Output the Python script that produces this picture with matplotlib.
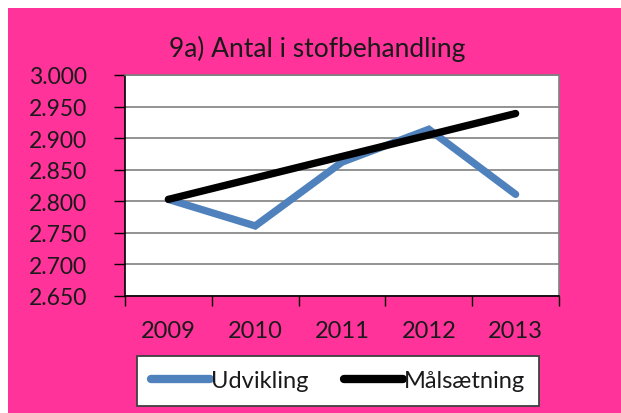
import numpy as np
import matplotlib
matplotlib.use("Agg")
import matplotlib.pyplot as plt
from matplotlib.patches import Rectangle
from matplotlib.ticker import FuncFormatter, MultipleLocator

plt.rcParams['font.family'] = ['Lato', 'DejaVu Sans']

years = ['2009', '2010', '2011', '2012', '2013']
udvikling = [2803, 2761, 2862, 2914, 2811]
maalsaetning = [2803, 2837, 2871, 2905, 2939]

pink = '#FF3399'
txt = '#1a1a1a'

fig = plt.figure(figsize=(6.21, 4.14), dpi=100)
fig.patch.set_facecolor('white')
# pink chart area (small white margin top/left as in the screenshot)
bg = Rectangle((8/621, 0), 1 - 8/621, (414-9)/414,
               transform=fig.transFigure, facecolor=pink,
               edgecolor='none', zorder=-10)
fig.patches.append(bg)

ax = fig.add_axes([125/621, (414-297)/414, (559-125)/621, (297-76)/414])
ax.set_facecolor('white')

x = np.arange(len(years))
ax.plot(x, udvikling, color='#4F81BD', lw=5.3, solid_capstyle='round',
        solid_joinstyle='miter', label='Udvikling', zorder=3)
ax.plot(x, maalsaetning, color='black', lw=5.3, solid_capstyle='round',
        label='Målsætning', zorder=4)

ax.set_xlim(-0.5, len(years) - 0.5)
ax.set_ylim(2650, 3000)
ax.yaxis.set_major_locator(MultipleLocator(50))
ax.yaxis.set_major_formatter(FuncFormatter(lambda v, p: f'{v/1000:.3f}'))
ax.grid(axis='y', color='#808080', lw=1.2, zorder=1)

ax.set_xticks(x)
ax.set_xticklabels(years)
ax.set_xticks(np.arange(-0.5, len(years)), minor=True)
ax.tick_params(axis='x', which='major', length=0, pad=17, labelsize=17,
               colors=txt)
ax.tick_params(axis='x', which='minor', length=7, width=1, color='black')
ax.tick_params(axis='y', length=8, width=1, pad=19, labelsize=16.5,
               colors='black', labelcolor=txt)

for s in ['left', 'bottom']:
    ax.spines[s].set_color('black')
    ax.spines[s].set_linewidth(1.2)
for s in ['right', 'top']:
    ax.spines[s].set_color('#808080')
    ax.spines[s].set_linewidth(1.2)

fig.text(317/621, (414-57)/414, '9a) Antal i stofbehandling', ha='center',
         va='baseline', fontsize=19, color=txt)

leg = fig.legend(loc='center', bbox_to_anchor=(338/621, (414-382)/414),
                 ncol=2, fontsize=17, frameon=True, fancybox=False,
                 framealpha=1, edgecolor='#404040', handlelength=2.5,
                 handletextpad=0.05, columnspacing=1.5, borderpad=0.6,
                 borderaxespad=0)
leg.get_frame().set_linewidth(1.3)
for line in leg.get_lines():
    line.set_linewidth(6)
for t in leg.get_texts():
    t.set_color(txt)

fig.savefig('out.png', dpi=100, facecolor=fig.get_facecolor())
